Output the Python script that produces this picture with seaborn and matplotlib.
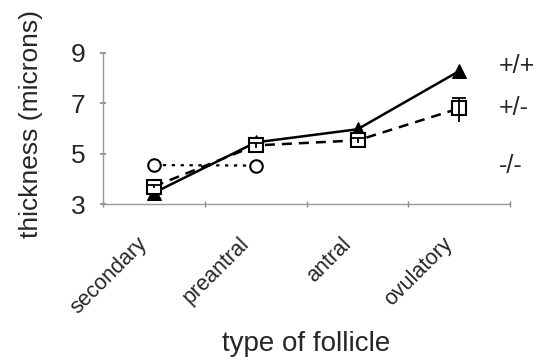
import pandas as pd
import seaborn as sns
import matplotlib.pyplot as plt
from matplotlib.transforms import blended_transform_factory, ScaledTranslation

# Data
follicles = ['secondary', 'preantral', 'antral', 'ovulatory']
wt = [3.45, 5.45, 5.97, 8.28]        # +/+
het = [3.7, 5.33, 5.53, 6.8]         # +/-
het_err_low = [0.05, 0.1, 0.1, 0.55]
het_err_high = [0.05, 0.1, 0.1, 0.4]
ko_follicles = ['secondary', 'preantral']
ko = [4.55, 4.53]                    # -/-

sns.set_theme(style='white')
plt.rcParams['font.family'] = ['Liberation Sans', 'DejaVu Sans']

fig, ax = plt.subplots(figsize=(5.48, 3.62), dpi=100)
fig.subplots_adjust(left=0.188, right=0.931, bottom=0.436, top=0.854)

# -/- : dotted, open circles
sns.lineplot(x=ko_follicles, y=ko, ax=ax, color='black', linestyle=(0, (1.5, 2.5)),
             linewidth=1.6, marker='o', markersize=9, markerfacecolor='white',
             markeredgecolor='black', markeredgewidth=1.5, sort=False)

# +/+ : solid, filled triangles
sns.lineplot(x=follicles, y=wt, ax=ax, color='black', linestyle='-', linewidth=1.8,
             marker='^', markersize=9.5, markerfacecolor='black',
             markeredgecolor='black', sort=False)

# +/- : dashed, open squares with error bars
eb = ax.errorbar(range(len(follicles)), het, yerr=[het_err_low, het_err_high], fmt='none',
                 ecolor='black', elinewidth=1.3, capsize=5, capthick=1.3, zorder=3)
eb[1][0].set_visible(False)  # no cap on the lower whisker
sns.lineplot(x=follicles, y=het, ax=ax, color='black', linestyle=(0, (4, 2.8)), linewidth=1.8,
             marker='s', markersize=9.5, markerfacecolor='white',
             markeredgecolor='black', markeredgewidth=1.5, sort=False)

ax.set_xlim(-0.5, 3.5)
ax.set_ylim(3, 9)
ax.set_yticks([3, 5, 7, 9])
ax.set_yticklabels(['3', '5', '7', '9'], fontsize=19)
ax.set_xticks(range(len(follicles)))
ax.set_xticklabels(follicles, rotation=45, ha='right', va='top', rotation_mode='anchor',
                   fontsize=15.5)
ax.set_xticks([-0.5, 0.5, 1.5, 2.5, 3.5], minor=True)
ax.tick_params(axis='x', which='major', length=0, pad=21)
ax.tick_params(axis='x', which='minor', length=4, direction='inout', color='#888888', bottom=True)
ax.tick_params(axis='y', length=5, direction='inout', color='#888888', left=True, pad=10)

# nudge the rotated category labels to the left (after tick_params, which resets transforms)
shift = ScaledTranslation(-17 / 100, 0, fig.dpi_scale_trans)
for lbl in ax.get_xticklabels():
    lbl.set_transform(lbl.get_transform() + shift)

for side in ['top', 'right']:
    ax.spines[side].set_visible(False)
for side in ['left', 'bottom']:
    ax.spines[side].set_color('#999999')
    ax.spines[side].set_linewidth(1.0)

ax.set_xlabel('type of follicle', fontsize=20, labelpad=9)
ax.set_ylabel('thickness (microns)', fontsize=19)
ax.yaxis.set_label_coords(-0.148, 0.53)

trans = blended_transform_factory(ax.transAxes, ax.transData)
for lab, yv in [('+/+', 8.48), ('+/-', 6.81), ('-/-', 4.51)]:
    ax.text(0.973, yv, lab, transform=trans, fontsize=18, va='center', ha='left',
            clip_on=False)

plt.savefig('out.png', dpi=100)
